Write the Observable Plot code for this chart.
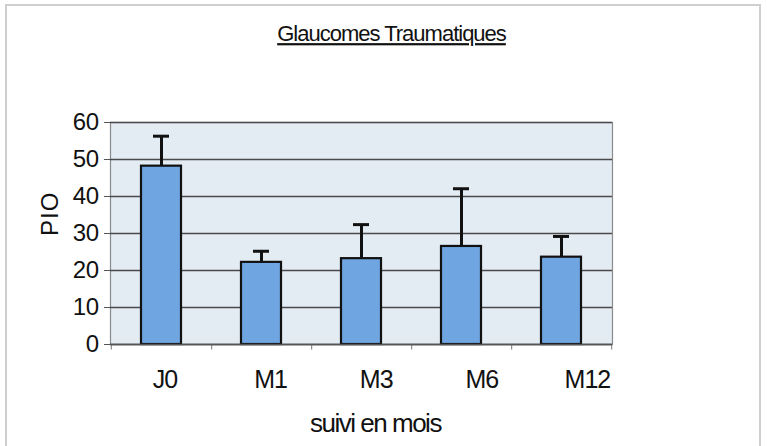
<!DOCTYPE html>
<html>
<head>
<meta charset="utf-8">
<script src="https://cdn.jsdelivr.net/npm/d3@7"></script>
<script src="https://cdn.jsdelivr.net/npm/@observablehq/plot@0.6"></script>
<style>
  html, body { margin: 0; padding: 0; background: #fff; }
  #wrap { position: relative; width: 767px; height: 446px; overflow: hidden; }
  #border { position: absolute; left: 5px; top: 4px; width: 756px; height: 460px;
            border: 2px solid #cfcfcf; box-sizing: border-box; }
  svg { position: absolute; left: 0; top: 0; font-family: "Liberation Sans", Arial, sans-serif; }
</style>
</head>
<body>
<div id="wrap"><div id="border"></div></div>
<script>
const categories = ["J0", "M1", "M3", "M6", "M12"];
const means = [48.2, 22.2, 23.2, 26.5, 23.6];
const sds = [8.1, 3.0, 9.2, 15.6, 5.6];
const yTicks = [0, 10, 20, 30, 40, 50, 60];
const titleText = "Glaucomes Traumatiques";
const xLabel = "suivi en mois";
const yLabel = "PIO";

const data = categories.map((c, i) => ({cat: c, mean: means[i], top: means[i] + sds[i]}));

// x tick labels in the reference drift slightly right of their bars
const xLabelMarks = categories.map((c, i) =>
  Plot.text([c], {x: d => d, frameAnchor: "bottom", dy: 43, dx: 3.5 + 5.6 * i,
                  fontSize: 25, fill: "#111", text: d => d})
);

const plot = Plot.plot({
  width: 767,
  height: 446,
  marginLeft: 110,
  marginRight: 155,
  marginTop: 122,
  marginBottom: 102,
  style: {fontFamily: "'Liberation Sans', Arial, sans-serif", color: "#111", background: "transparent"},
  x: {domain: categories, paddingInner: 0.6, paddingOuter: 0.3, label: null, axis: null},
  y: {domain: [0, 60], label: null, axis: null},
  marks: [
    Plot.frame({fill: "#e3ebf3", stroke: "#8a8a8a", strokeWidth: 1.2}),
    Plot.gridY(yTicks, {stroke: "#4a4a4a", strokeOpacity: 1, strokeWidth: 1.3}),
    Plot.ruleX(categories, {x: d => d, dx: 50.2, y1: 0, y2: -1.5, stroke: "#777"}),
    Plot.ruleX([categories[0]], {x: d => d, dx: -50.2, y1: 0, y2: -1.5, stroke: "#777"}),
    Plot.ruleX(data, {x: "cat", y1: "mean", y2: "top", stroke: "#111", strokeWidth: 3}),
    Plot.tickY(data, {x: "cat", y: "top", stroke: "#111", strokeWidth: 3, insetLeft: 12, insetRight: 12}),
    Plot.barY(data, {x: "cat", y: "mean", fill: "#6fa6e2", stroke: "#111", strokeWidth: 2.2}),
    Plot.ruleY([0], {stroke: "#555", strokeWidth: 1.5}),
    Plot.ruleX([0], {frameAnchor: "left", stroke: "#555", strokeWidth: 1.5}),
    Plot.axisY(yTicks, {tickSize: 6, tickPadding: 6, fontSize: 24, stroke: "#555", fill: "#111", label: null}),
    ...xLabelMarks,
    Plot.text([xLabel], {frameAnchor: "bottom", dx: 14, dy: 87, fontSize: 26, fill: "#111", text: d => d}),
    Plot.text([yLabel], {frameAnchor: "left", dx: -60.5, dy: 2.5, rotate: -90, fontSize: 24, fill: "#111", text: d => d}),
    Plot.text([titleText], {frameAnchor: "top", dx: 30, dy: -97, fontSize: 22, fill: "#111", text: d => d})
  ]
});

const svg = d3.select(plot);
svg.selectAll("text").each(function() {
  const t = this.textContent;
  const s = d3.select(this);
  if (t === titleText) s.style("text-decoration", "underline").style("letter-spacing", "-1px");
  else if (t === xLabel) s.style("letter-spacing", "-1.5px");
  else if (t === yLabel) s.style("letter-spacing", "1px");
  else if (categories.includes(t)) s.style("letter-spacing", "-1px");
  else s.style("letter-spacing", "-0.5px");
});
document.getElementById("wrap").appendChild(plot);
</script>
</body>
</html>
